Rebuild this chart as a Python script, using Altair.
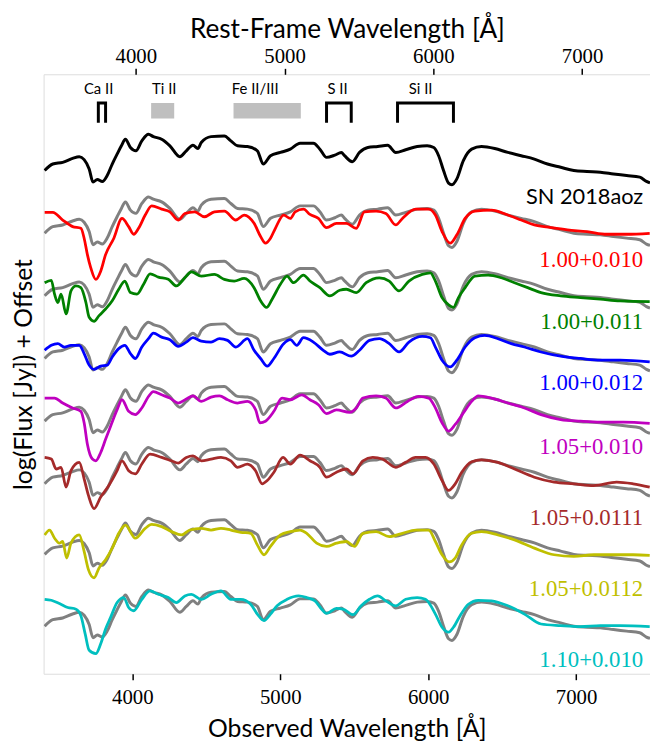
import altair as alt
import pandas as pd

REDSHIFT = 0.0058

# Observed spectrum of SN 2018aoz (top, black) - wavelength [A] and log flux + offset
obs_wl = [3407, 3462, 3529, 3596, 3641, 3674, 3708, 3734, 3763, 3797, 3830, 3864, 3897, 3926, 3953,
          3987, 4024, 4064, 4109, 4142, 4198, 4254, 4321, 4365, 4410, 4443, 4466, 4532, 4622, 4666,
          4711, 4778, 4845, 4885, 4934, 5001, 5068, 5134, 5224, 5268, 5313, 5369, 5413, 5435, 5487,
          5536, 5592, 5659, 5726, 5781, 5848, 5926, 5993, 6038, 6071, 6104, 6138, 6161, 6194, 6238,
          6294, 6361, 6450, 6539, 6629, 6718, 6807, 6896, 6985, 7074, 7164, 7253, 7342, 7431, 7476, 7500]
obs_flux = [5.087, 5.153, 5.170, 5.210, 5.227, 5.197, 5.103, 4.970, 4.997, 4.977, 5.037, 5.153, 5.253, 5.337, 5.403,
            5.320, 5.287, 5.387, 5.453, 5.430, 5.403, 5.337, 5.227, 5.287, 5.343, 5.310, 5.370, 5.430, 5.437, 5.387,
            5.337, 5.330, 5.287, 5.153, 5.237, 5.270, 5.303, 5.363, 5.363, 5.303, 5.220, 5.243, 5.270, 5.237, 5.177,
            5.270, 5.320, 5.330, 5.343, 5.270, 5.297, 5.330, 5.337, 5.320, 5.237, 5.087, 4.960, 4.943, 5.003, 5.187,
            5.303, 5.330, 5.310, 5.270, 5.237, 5.203, 5.153, 5.120, 5.087, 5.077, 5.070, 5.053, 5.037, 5.020, 4.977, 4.963]

# offsets of the grey copies of the observed spectrum under each model
gray_offsets = [0.633, 1.266, 1.900, 2.533, 3.166, 3.880, 4.606]

model_names = ["1.00+0.010", "1.00+0.011", "1.00+0.012", "1.05+0.010", "1.05+0.0111", "1.05+0.0112", "1.10+0.010"]
model_colors = ["#ff0000", "#008000", "#0000ff", "#bf00bf", "#a52a2a", "#bfbf00", "#00bfbf"]
label_flux = [4.18, 3.553, 2.94, 2.29, 1.57, 0.853, 0.14]
sn_label_flux = 4.82
label_wl = 7454

red_wl = [3407, 3462, 3529, 3596, 3652, 3674, 3696, 3719, 3753, 3786, 3819, 3875, 3930, 3975, 4009, 4042, 4087,
          4131, 4198, 4254, 4310, 4355, 4421, 4488, 4555, 4622, 4700, 4756, 4823, 4867, 4900, 4934, 4967, 5023,
          5068, 5101, 5157, 5201, 5258, 5313, 5380, 5447, 5514, 5569, 5648, 5714, 5781, 5826, 5915, 6004, 6049,
          6094, 6149, 6194, 6250, 6316, 6428, 6539, 6629, 6718, 6830, 6941, 7074, 7208, 7342, 7498]
red_flux = [4.663, 4.663, 4.587, 4.520, 4.503, 4.403, 4.237, 4.103, 3.987, 4.070, 4.237, 4.403, 4.603, 4.520, 4.443,
            4.503, 4.637, 4.730, 4.697, 4.670, 4.587, 4.653, 4.670, 4.620, 4.670, 4.677, 4.587, 4.637, 4.553, 4.420,
            4.353, 4.403, 4.503, 4.637, 4.603, 4.670, 4.697, 4.643, 4.603, 4.510, 4.553, 4.553, 4.503, 4.670, 4.677,
            4.653, 4.537, 4.603, 4.697, 4.697, 4.637, 4.470, 4.353, 4.437, 4.603, 4.677, 4.687, 4.637, 4.587, 4.537,
            4.510, 4.487, 4.470, 4.443, 4.443, 4.453]

green_wl = [3407, 3452, 3474, 3496, 3518, 3552, 3585, 3619, 3652, 3686, 3708, 3741, 3775, 3819, 3864, 3908, 3949,
            3987, 4031, 4076, 4120, 4176, 4243, 4298, 4355, 4399, 4466, 4555, 4622, 4689, 4756, 4823, 4867, 4907,
            4945, 5001, 5046, 5090, 5157, 5201, 5268, 5335, 5402, 5447, 5514, 5581, 5670, 5737, 5803, 5870, 5960,
            6015, 6049, 6094, 6138, 6171, 6205, 6250, 6316, 6405, 6495, 6584, 6673, 6763, 6896, 7030, 7164, 7298, 7498]
green_flux = [3.953, 3.977, 3.837, 3.753, 3.837, 3.637, 3.870, 3.920, 3.903, 3.753, 3.603, 3.563, 3.620, 3.687,
              3.770, 3.887, 3.970, 3.853, 3.837, 3.937, 4.043, 4.010, 3.987, 3.920, 4.003, 4.063, 4.020, 4.037,
              3.987, 3.970, 3.997, 3.903, 3.770, 3.703, 3.787, 3.937, 4.020, 3.953, 4.030, 3.970, 3.903, 3.820,
              3.877, 3.887, 3.853, 3.953, 4.003, 3.970, 3.870, 3.970, 4.037, 4.053, 3.970, 3.803, 3.730, 3.703,
              3.803, 3.903, 4.020, 4.030, 4.003, 3.953, 3.903, 3.853, 3.820, 3.803, 3.787, 3.770, 3.763]

blue_wl = [3407, 3452, 3496, 3540, 3585, 3641, 3674, 3708, 3741, 3786, 3830, 3864, 3908, 3949, 3987, 4020, 4064,
           4109, 4142, 4198, 4254, 4310, 4365, 4410, 4466, 4532, 4589, 4644, 4700, 4778, 4823, 4867, 4912, 4957,
           5023, 5068, 5112, 5157, 5224, 5291, 5335, 5402, 5480, 5536, 5603, 5670, 5737, 5803, 5870, 5960, 6015,
           6049, 6094, 6149, 6194, 6250, 6316, 6383, 6472, 6562, 6651, 6763, 6896, 7030, 7164, 7298, 7498]
blue_flux = [3.270, 3.320, 3.337, 3.303, 3.320, 3.320, 3.237, 3.120, 3.077, 3.110, 3.120, 3.203, 3.287, 3.320,
             3.237, 3.187, 3.303, 3.387, 3.443, 3.403, 3.377, 3.310, 3.353, 3.397, 3.363, 3.353, 3.387, 3.370,
             3.303, 3.387, 3.270, 3.187, 3.110, 3.187, 3.337, 3.377, 3.320, 3.397, 3.353, 3.270, 3.230, 3.253,
             3.210, 3.270, 3.370, 3.387, 3.337, 3.253, 3.353, 3.410, 3.397, 3.303, 3.170, 3.103, 3.170, 3.303,
             3.397, 3.420, 3.387, 3.337, 3.303, 3.253, 3.210, 3.187, 3.170, 3.170, 3.153]

magenta_wl = [3407, 3474, 3529, 3596, 3652, 3674, 3696, 3730, 3753, 3786, 3819, 3853, 3897, 3930, 3975, 4020,
              4064, 4109, 4142, 4198, 4254, 4310, 4365, 4410, 4466, 4532, 4589, 4644, 4711, 4778, 4833, 4863,
              4900, 4957, 5012, 5068, 5146, 5201, 5258, 5313, 5380, 5469, 5514, 5559, 5648, 5714, 5781, 5860,
              5937, 6004, 6049, 6094, 6138, 6183, 6238, 6294, 6339, 6428, 6539, 6651, 6763, 6896, 7030, 7164,
              7319, 7498]
magenta_flux = [2.787, 2.787, 2.737, 2.687, 2.653, 2.537, 2.320, 2.170, 2.153, 2.237, 2.370, 2.503, 2.670, 2.770,
                2.653, 2.620, 2.687, 2.803, 2.853, 2.820, 2.787, 2.737, 2.777, 2.810, 2.753, 2.797, 2.810, 2.770,
                2.737, 2.753, 2.670, 2.537, 2.553, 2.653, 2.787, 2.770, 2.820, 2.770, 2.720, 2.630, 2.667, 2.643,
                2.687, 2.787, 2.810, 2.787, 2.687, 2.753, 2.803, 2.787, 2.687, 2.537, 2.453, 2.520, 2.637, 2.753,
                2.810, 2.787, 2.737, 2.687, 2.620, 2.570, 2.553, 2.543, 2.543, 2.530]

brown_wl = [3407, 3452, 3485, 3518, 3552, 3585, 3641, 3674, 3703, 3741, 3786, 3841, 3897, 3930, 3975, 4020, 4064,
            4120, 4198, 4265, 4310, 4365, 4410, 4466, 4532, 4599, 4666, 4711, 4778, 4833, 4878, 4912, 4957, 5019,
            5068, 5134, 5201, 5268, 5313, 5380, 5447, 5492, 5559, 5625, 5692, 5781, 5848, 5915, 5982, 6038, 6094,
            6138, 6183, 6227, 6294, 6361, 6472, 6584, 6718, 6852, 6985, 7119, 7275, 7386, 7498]
brown_flux = [2.187, 2.170, 2.070, 2.087, 1.887, 2.053, 2.137, 1.970, 1.803, 1.670, 1.787, 1.903, 2.053, 2.153,
              2.053, 2.020, 2.120, 2.220, 2.187, 2.153, 2.130, 2.187, 2.203, 2.153, 2.170, 2.187, 2.153, 2.087,
              2.120, 2.053, 1.920, 1.953, 2.037, 2.187, 2.120, 2.210, 2.153, 2.087, 1.987, 2.037, 2.070, 2.020,
              2.153, 2.187, 2.170, 2.087, 2.137, 2.187, 2.187, 2.120, 1.953, 1.853, 1.920, 2.037, 2.143, 2.163,
              2.137, 2.070, 1.987, 1.937, 1.920, 1.903, 1.937, 1.920, 1.887]

yellow_wl = [3407, 3440, 3474, 3507, 3529, 3556, 3585, 3641, 3674, 3703, 3741, 3775, 3819, 3864, 3908, 3953,
             4020, 4087, 4131, 4198, 4265, 4332, 4388, 4466, 4532, 4599, 4666, 4733, 4800, 4845, 4890, 4934,
             5001, 5068, 5134, 5179, 5246, 5313, 5380, 5447, 5502, 5559, 5648, 5737, 5826, 5915, 6004, 6049,
             6094, 6143, 6183, 6227, 6294, 6361, 6472, 6584, 6718, 6852, 6985, 7119, 7253, 7386, 7498]
yellow_flux = [1.403, 1.453, 1.370, 1.320, 1.337, 1.170, 1.320, 1.403, 1.237, 1.053, 0.970, 1.070, 1.153, 1.270,
               1.420, 1.503, 1.370, 1.470, 1.510, 1.487, 1.437, 1.403, 1.453, 1.470, 1.453, 1.470, 1.453, 1.430,
               1.420, 1.303, 1.203, 1.287, 1.403, 1.437, 1.453, 1.420, 1.320, 1.287, 1.320, 1.337, 1.287, 1.420,
               1.437, 1.387, 1.420, 1.453, 1.453, 1.337, 1.203, 1.130, 1.170, 1.303, 1.420, 1.437, 1.403, 1.353,
               1.270, 1.203, 1.187, 1.203, 1.203, 1.203, 1.197]

cyan_wl = [3407, 3452, 3507, 3563, 3619, 3652, 3681, 3708, 3753, 3786, 3819, 3853, 3897, 3942, 3975, 4009, 4064,
           4120, 4176, 4243, 4298, 4355, 4399, 4466, 4532, 4599, 4666, 4733, 4800, 4845, 4890, 4934, 4979, 5046,
           5124, 5179, 5235, 5280, 5313, 5380, 5425, 5492, 5547, 5603, 5659, 5714, 5781, 5848, 5926, 5982, 6049,
           6094, 6138, 6171, 6216, 6272, 6339, 6428, 6539, 6651, 6763, 6896, 7030, 7164, 7298, 7498]
cyan_flux = [0.753, 0.743, 0.710, 0.670, 0.653, 0.587, 0.403, 0.237, 0.203, 0.303, 0.453, 0.570, 0.720, 0.770,
             0.670, 0.637, 0.753, 0.837, 0.803, 0.770, 0.720, 0.787, 0.803, 0.753, 0.803, 0.837, 0.753, 0.753,
             0.703, 0.603, 0.537, 0.603, 0.687, 0.753, 0.787, 0.770, 0.737, 0.653, 0.610, 0.660, 0.653, 0.597,
             0.687, 0.753, 0.787, 0.737, 0.687, 0.753, 0.770, 0.753, 0.603, 0.470, 0.420, 0.470, 0.587, 0.703,
             0.743, 0.737, 0.687, 0.603, 0.503, 0.487, 0.477, 0.487, 0.487, 0.477]

# line identifications
ion_names = ["Ca II", "Ti II", "Fe II/III", "S II", "Si II"]
ion_text_wl = [3772, 4216, 4831, 5387, 5949]
ion_text_flux = 5.91
bracket_names = ["Ca II", "S II", "Si II"]
bracket_lo = [3770, 5313, 5793]
bracket_hi = [3819, 5480, 6171]
bracket_top = 5.77
bracket_bottom = 5.57
box_names = ["Ti II", "Fe II/III"]
box_lo = [4127, 4684]
box_hi = [4283, 5139]
box_bottom = 5.613

rest_ticks = [4000, 5000, 6000, 7000]

# ---------------- build tables ----------------
obs_df = pd.DataFrame({"wl": obs_wl[:len(obs_flux)], "flux": obs_flux[:len(obs_wl)]})
obs_df["series"] = "SN 2018aoz"

gray_rows = []
for k, off in enumerate(gray_offsets):
    for w, f in zip(obs_wl, obs_flux):
        gray_rows.append({"wl": w, "flux": round(f - off, 4), "series": f"g{k}"})
gray_df = pd.DataFrame(gray_rows)

model_series = [(red_wl, red_flux), (green_wl, green_flux), (blue_wl, blue_flux),
                (magenta_wl, magenta_flux), (brown_wl, brown_flux), (yellow_wl, yellow_flux),
                (cyan_wl, cyan_flux)]
model_rows = []
for name, (wls, fls) in zip(model_names, model_series):
    for w, f in zip(wls, fls):
        model_rows.append({"wl": w, "flux": f, "series": name})
model_df = pd.DataFrame(model_rows)

label_df = pd.DataFrame({"wl": [label_wl] * len(model_names), "flux": label_flux, "series": model_names})
sn_df = pd.DataFrame({"wl": [label_wl], "flux": [sn_label_flux], "text": ["SN 2018aoz"]})

ion_df = pd.DataFrame({"wl": ion_text_wl, "flux": [ion_text_flux] * len(ion_names), "text": ion_names})

br_rows = []
for n, lo, hi in zip(bracket_names, bracket_lo, bracket_hi):
    for k, (w, f) in enumerate([(lo, bracket_bottom), (lo, bracket_top), (hi, bracket_top), (hi, bracket_bottom)]):
        br_rows.append({"wl": w, "flux": f, "ion": n, "k": k})
br_df = pd.DataFrame(br_rows)

box_df = pd.DataFrame({"wl": box_lo, "wl2": box_hi, "flux": [box_bottom] * 2,
                       "flux2": [bracket_top] * 2, "ion": box_names})

rest_df = pd.DataFrame({"rest": rest_ticks})

# ---------------- encodings ----------------
TITLE_FONT = "Lato"
LABEL_FONT = "Liberation Serif"

xscale = alt.Scale(domain=[3400, 7500], nice=False, zero=False)
yscale = alt.Scale(domain=[0, 6.06], nice=False, zero=False)
xaxis = alt.Axis(values=[4000, 5000, 6000, 7000], title="Observed Wavelength [Å]", format="d",
                 grid=False, domain=False, tickSize=6, tickWidth=1.5, tickColor="black",
                 labelFont=LABEL_FONT, labelFontSize=21, labelColor="black", labelPadding=7,
                 titleFont=TITLE_FONT, titleFontSize=25, titleFontWeight="normal", titleColor="black",
                 titlePadding=9)
yaxis = alt.Axis(title="log(Flux [Jy])  +  Offset", labels=False, ticks=False, domain=False, grid=False,
                 titleFont=TITLE_FONT, titleFontSize=25, titleFontWeight="normal", titleColor="black",
                 titlePadding=7)

X = alt.X("wl:Q", scale=xscale, axis=xaxis)
Y = alt.Y("flux:Q", scale=yscale, axis=yaxis)

color_scale = alt.Scale(domain=model_names, range=model_colors)

gray = alt.Chart(gray_df).mark_line(color="#808080", strokeWidth=3, clip=True,
                                    interpolate="monotone").encode(x=X, y=Y, detail="series:N")
black = alt.Chart(obs_df).mark_line(color="black", strokeWidth=3, clip=True,
                                    interpolate="monotone").encode(x=X, y=Y)
models = alt.Chart(model_df).mark_line(strokeWidth=2.8, clip=True, interpolate="monotone").encode(
    x=X, y=Y, color=alt.Color("series:N", scale=color_scale, legend=None), detail="series:N")

labels = alt.Chart(label_df).mark_text(align="right", baseline="middle", font=LABEL_FONT,
                                       fontSize=23).encode(
    x=X, y=Y, text="series:N", color=alt.Color("series:N", scale=color_scale, legend=None))
sn_label = alt.Chart(sn_df).mark_text(align="right", baseline="middle", font=TITLE_FONT,
                                      fontSize=22, color="black").encode(x=X, y=Y, text="text:N")

ions = alt.Chart(ion_df).mark_text(align="center", baseline="middle", font=TITLE_FONT,
                                   fontSize=15, color="black").encode(x=X, y=Y, text="text:N")
brackets = alt.Chart(br_df).mark_line(color="black", strokeWidth=3, strokeJoin="miter",
                                      strokeCap="butt").encode(
    x=X, y=Y, detail="ion:N", order="k:O")
boxes = alt.Chart(box_df).mark_rect(color="#bfbfbf").encode(
    x=X, x2="wl2:Q", y=Y, y2="flux2:Q")

main = alt.layer(boxes, brackets, ions, gray, black, models, labels, sn_label)

top = alt.Chart(rest_df).mark_point(opacity=0).encode(
    x=alt.X("rest:Q",
            scale=alt.Scale(domain=[3400 / (1 + REDSHIFT), 7500 / (1 + REDSHIFT)], nice=False, zero=False),
            axis=alt.Axis(orient="top", values=rest_ticks, title="Rest-Frame Wavelength [Å]", format="d",
                          grid=False, domain=False, tickSize=6, tickWidth=1.5, tickColor="black",
                          labelFont=LABEL_FONT, labelFontSize=21, labelColor="black", labelPadding=2,
                          titleFont=TITLE_FONT, titleFontSize=26.5, titleFontWeight="normal",
                          titleColor="black", titlePadding=2)))

chart = alt.layer(main, top).resolve_scale(x="independent").properties(
    width=613, height=606,
    autosize=alt.AutoSizeParams(type="none"),
    padding={"left": 36, "top": 63, "right": 0, "bottom": 68},
).configure_view(stroke="black", strokeWidth=2).configure(background="white")

chart.save("out.html", embed_options={"renderer": "svg", "actions": False})
